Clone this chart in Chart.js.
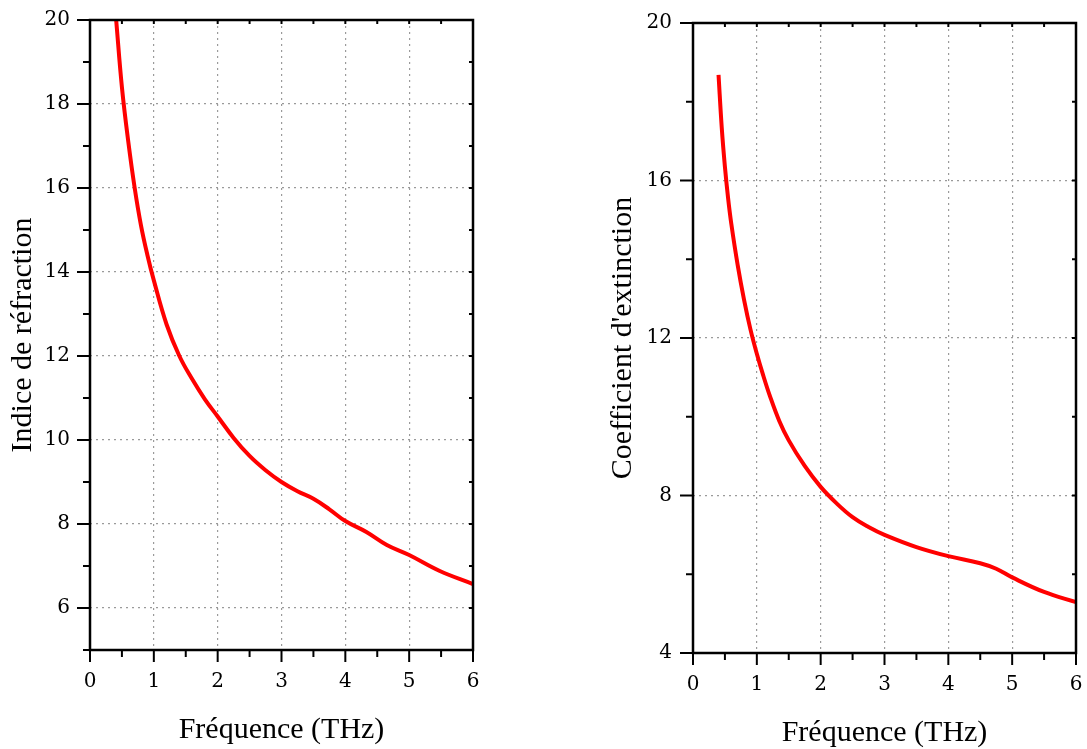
<!DOCTYPE html>
<html>
<head>
<meta charset="utf-8">
<script src="https://cdn.jsdelivr.net/npm/chart.js@4/dist/chart.umd.min.js"></script>
<style>
  body { margin: 0; background: #fff; }
  .box { position: absolute; top: 0; height: 749px; }
</style>
</head>
<body>
<div class="box" style="left:0;width:530px"><canvas id="chartN"></canvas></div>
<div class="box" style="left:545px;width:542px"><canvas id="chartK"></canvas></div>
<script>
// Data
const freqN  = [0.41, 0.5, 0.6, 0.7, 0.8, 0.9, 1.0, 1.2, 1.4, 1.6, 1.8, 2.0, 2.25, 2.5, 2.75, 3.0, 3.25, 3.5, 3.75, 4.0, 4.33, 4.65, 5.0, 5.48, 6.0];
const indexN = [20.0, 18.4, 17.1, 16.0, 15.1, 14.4, 13.8, 12.75, 12.0, 11.45, 10.97, 10.56, 10.05, 9.62, 9.28, 9.0, 8.78, 8.6, 8.35, 8.07, 7.81, 7.5, 7.26, 6.88, 6.57];

const freqK = [0.40, 0.45, 0.50, 0.55, 0.60, 0.70, 0.80, 0.90, 1.0, 1.1, 1.2, 1.35, 1.5, 1.75, 2.0, 2.25, 2.5, 2.75, 3.0, 3.5, 4.0, 4.5, 4.75, 5.0, 5.5, 6.0];
const extK  = [18.68, 17.35, 16.35, 15.55, 14.9, 13.85, 12.97, 12.22, 11.6, 11.05, 10.55, 9.9, 9.4, 8.75, 8.22, 7.8, 7.45, 7.2, 7.0, 6.69, 6.46, 6.28, 6.14, 5.92, 5.55, 5.29];

const xTicks = [0, 1, 2, 3, 4, 5, 6];

const serif = "'Liberation Serif', 'Times New Roman', serif";
const tickFont = { family: "'DejaVu Serif', serif", size: 20 };

// frame + tick marks (outward on left/bottom, small on top/right)
const frameTicks = {
  id: 'frameTicks',
  afterDraw(chart, args, opts) {
    const { ctx, chartArea: a, scales: { x, y } } = chart;
    const line = (x1, y1, x2, y2) => {
      ctx.beginPath(); ctx.moveTo(x1, y1); ctx.lineTo(x2, y2); ctx.stroke();
    };
    ctx.save();
    ctx.strokeStyle = '#000';
    ctx.lineWidth = 2.5;
    ctx.strokeRect(a.left, a.top, a.right - a.left, a.bottom - a.top);
    ctx.lineWidth = 2;
    x.ticks.forEach(t => {
      const px = x.getPixelForValue(t.value);
      const len = t.value % 1 === 0 ? 12 : 7;
      line(px, a.bottom, px, a.bottom + len);
      line(px, a.top, px, a.top + 4);
    });
    y.ticks.forEach(t => {
      const py = y.getPixelForValue(t.value);
      const len = t.value % opts.major === 0 ? 13 : 7;
      line(a.left - len, py, a.left, py);
      line(a.right - 4, py, a.right, py);
    });
    ctx.restore();
  }
};

function makeChart(id, xs, ys, o) {
  const ctx = document.getElementById(id).getContext('2d');
  return new Chart(ctx, {
    type: 'line',
    data: {
      datasets: [{
        data: xs.map((v, i) => ({ x: v, y: ys[i] })),
        borderColor: '#ff0000',
        borderWidth: 4,
        pointRadius: 0,
        tension: 0.4,
        fill: false
      }]
    },
    options: {
      responsive: true,
      maintainAspectRatio: false,
      animation: false,
      layout: { padding: o.padding },
      plugins: {
        legend: { display: false },
        tooltip: { enabled: false },
        frameTicks: { major: o.major }
      },
      scales: {
        x: {
          type: 'linear',
          min: 0, max: 6,
          afterFit: s => { s.height = o.xHeight; s.paddingLeft = 0; s.paddingRight = 0; },
          ticks: {
            stepSize: 0.5,
            maxRotation: 0,
            autoSkip: false,
            padding: 20,
            color: '#000',
            font: tickFont,
            callback: v => xTicks.includes(v) ? v : ''
          },
          grid: {
            drawTicks: false,
            color: c => (c.tick && c.tick.value % 1 === 0 && c.tick.value > 0 && c.tick.value < 6) ? '#9a9a9a' : 'transparent',
            lineWidth: 1.2
          },
          border: { display: false, dash: [2, 4] },
          title: {
            display: true,
            text: 'Fréquence (THz)',
            color: '#000',
            font: { family: serif, size: 30, lineHeight: 1 },
            padding: { top: 0, bottom: o.xTitlePad }
          }
        },
        y: {
          min: o.yMin, max: o.yMax,
          afterFit: s => { s.width = o.yWidth; s.paddingTop = 0; s.paddingBottom = 0; },
          ticks: {
            stepSize: o.major / 2,
            autoSkip: false,
            padding: o.yTickPad,
            color: '#000',
            font: tickFont,
            callback: v => (v % o.major === 0 ? v : '')
          },
          grid: {
            drawTicks: false,
            color: c => (c.tick && c.tick.value % o.major === 0 && c.tick.value > o.yMin && c.tick.value < o.yMax) ? '#9a9a9a' : 'transparent',
            lineWidth: 1.2
          },
          border: { display: false, dash: [2, 4] },
          title: {
            display: true,
            text: o.yTitle,
            color: '#000',
            font: { family: serif, size: 30, lineHeight: 1 },
            padding: { top: 0, bottom: 0 }
          }
        }
      }
    },
    plugins: [frameTicks]
  });
}

// Indice de réfraction
makeChart('chartN', freqN, indexN, {
  yMin: 5, yMax: 20, major: 2,
  yTitle: 'Indice de réfraction',
  padding: { left: 8, top: 20, right: 57, bottom: 0 },
  yWidth: 82, xHeight: 99, yTickPad: 20, xTitlePad: 4
});

// Coefficient d'extinction
makeChart('chartK', freqK, extK, {
  yMin: 4, yMax: 20, major: 4,
  yTitle: "Coefficient d'extinction",
  padding: { left: 63, top: 23, right: 11, bottom: 0 },
  yWidth: 85, xHeight: 96, yTickPad: 21, xTitlePad: 1
});
</script>
</body>
</html>
